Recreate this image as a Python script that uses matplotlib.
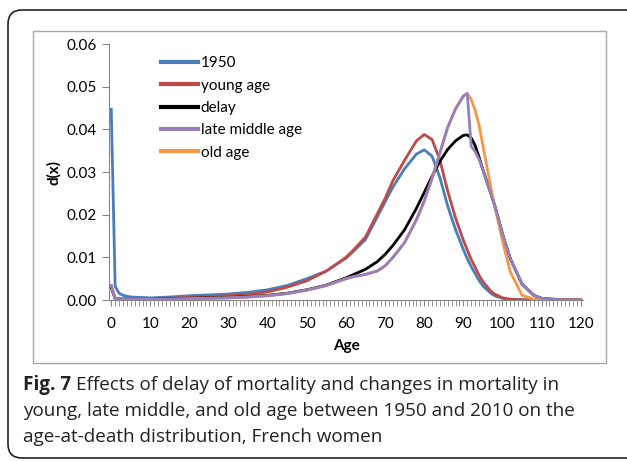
import numpy as np
import matplotlib
matplotlib.use("Agg")
import matplotlib.pyplot as plt
from matplotlib.patches import FancyBboxPatch, Rectangle

ages = [0, 1, 2, 3, 5, 10, 15, 20, 25, 30, 35, 40, 45, 50, 55, 60, 62, 65, 68, 70,
        72, 75, 78, 80, 82, 84, 86, 88, 90, 91, 92, 93, 94, 95, 97, 98, 100, 102, 105,
        108, 110, 115, 120]

d_1950 = [0.0447, 0.0032, 0.0016, 0.0011, 0.0007, 0.0005, 0.0007, 0.0010, 0.0012, 0.0014,
          0.0018, 0.0024, 0.0034, 0.0050, 0.0068, 0.0098, 0.0115, 0.0142, 0.0195, 0.0230,
          0.0265, 0.0308, 0.0342, 0.0352, 0.0337, 0.0287, 0.0220, 0.0165, 0.0118, 0.0097,
          0.0078, 0.0062, 0.0046, 0.0033, 0.0016, 0.0010, 0.0004, 0.0001, 0.00003,
          0.0, 0.0, 0.0, 0.0]

d_young = [0.0030, 0.0004, 0.0003, 0.0003, 0.0003, 0.0003, 0.0004, 0.0006, 0.0008, 0.0010,
           0.0013, 0.0019, 0.0030, 0.0045, 0.0068, 0.0100, 0.0118, 0.0148, 0.0202, 0.0238,
           0.0280, 0.0328, 0.0373, 0.0388, 0.0376, 0.0328, 0.0255, 0.0192, 0.0140, 0.0117,
           0.0095, 0.0077, 0.0058, 0.0043, 0.0021, 0.0014, 0.0005, 0.0002, 0.00005,
           0.0, 0.0, 0.0, 0.0]

d_delay = [0.0030, 0.0003, 0.0002, 0.0002, 0.0002, 0.0002, 0.0003, 0.0004, 0.0005, 0.0006,
           0.0008, 0.0011, 0.0016, 0.0024, 0.0035, 0.0052, 0.0060, 0.0072, 0.0090, 0.0107,
           0.0128, 0.0165, 0.0215, 0.0252, 0.0290, 0.0325, 0.0353, 0.0373, 0.0386, 0.0387,
           0.0380, 0.0362, 0.0335, 0.0305, 0.0250, 0.0222, 0.0155, 0.0097, 0.0037,
           0.0011, 0.0004, 0.00003, 0.0]

d_late_middle = [0.0034, 0.0003, 0.0002, 0.0002, 0.0002, 0.0002, 0.0002, 0.0003, 0.0004, 0.0005,
                 0.0007, 0.0010, 0.0015, 0.0023, 0.0034, 0.0050, 0.0055, 0.0060, 0.0068, 0.0080,
                 0.0100, 0.0135, 0.0188, 0.0232, 0.0285, 0.0345, 0.0405, 0.0448, 0.0478, 0.0484,
                 0.0360, 0.0348, 0.0330, 0.0305, 0.0250, 0.0222, 0.0155, 0.0097, 0.0037,
                 0.0011, 0.0004, 0.00003, 0.0]

d_old = [0.0034, 0.0003, 0.0002, 0.0002, 0.0002, 0.0002, 0.0002, 0.0003, 0.0004, 0.0005,
         0.0007, 0.0010, 0.0015, 0.0023, 0.0034, 0.0050, 0.0055, 0.0060, 0.0068, 0.0080,
         0.0100, 0.0135, 0.0188, 0.0232, 0.0285, 0.0345, 0.0405, 0.0448, 0.0478, 0.0484,
         0.0470, 0.0445, 0.0410, 0.0362, 0.0265, 0.0220, 0.0138, 0.0066, 0.0011,
         0.0002, 0.00005, 0.0, 0.0]

font = "Lato"
W, H = 627, 461
fig = plt.figure(figsize=(W / 100, H / 100), dpi=100)

# outer rounded frame and inner chart box (pixel coords)
fig.patches.append(FancyBboxPatch((8, 3), 640, 448, boxstyle="round,pad=0,rounding_size=14",
                                  transform=None, fill=False, ec="#222222", lw=1.2))
fig.patches.append(Rectangle((33, H - 363), 573, 332, transform=None, fill=False,
                             ec="#a6a6a6", lw=1.0))

ax = fig.add_axes([109.3 / W, 1 - 300 / H, 473.4 / W, 256 / H])
ax.plot(ages, d_1950, color="#4a7ebb", lw=2.0, label="1950", zorder=2)
ax.plot(ages, d_young, color="#be4b48", lw=2.0, label="young age", zorder=3)
ax.plot(ages, d_delay, color="#000000", lw=2.0, label="delay", zorder=4)
ax.plot(ages, d_late_middle, color="#9580bb", lw=2.0, label="late middle age", zorder=6)
ax.plot(ages, d_old, color="#f79646", lw=2.0, label="old age", zorder=5)

ax.set_xlim(-0.5, 120.5)
ax.set_ylim(0, 0.06)
ax.set_xticks(range(0, 121, 10))
ax.set_xticks(range(0, 121), minor=True)
ax.set_yticks([0, 0.01, 0.02, 0.03, 0.04, 0.05, 0.06])
ax.set_yticklabels(["%.2f" % v for v in ax.get_yticks()])
for s in ["top", "right"]:
    ax.spines[s].set_visible(False)
for s in ["left", "bottom"]:
    ax.spines[s].set_color("#868686")
ax.tick_params(axis="both", which="both", color="#868686", direction="out")
ax.tick_params(axis="x", which="both", length=4, pad=8)
ax.tick_params(axis="y", length=5, pad=4)
for lab in ax.get_xticklabels() + ax.get_yticklabels():
    lab.set_fontfamily(font)
    lab.set_fontsize(11)
ax.set_xlabel("Age", fontfamily=font, fontsize=11, fontweight="bold", labelpad=6)
ax.set_ylabel("d(x)", fontfamily=font, fontsize=11, fontweight="bold", labelpad=4)

leg = ax.legend(loc="upper left", bbox_to_anchor=(155 / W, 1 - 50 / H),
                bbox_transform=fig.transFigure, frameon=False,
                prop={"family": font, "size": 11}, handlelength=2.4,
                handletextpad=0.2, labelspacing=0.55, borderaxespad=0)
for t in leg.get_lines():
    t.set_linewidth(3)

# caption
cap_size = 13.6
fig.canvas.draw()
r = fig.canvas.get_renderer()
y0 = 1 - 385 / H
t1 = fig.text(23 / W, y0, "Fig. 7", fontfamily="Open Sans", fontsize=cap_size,
              fontweight="bold", va="center", color="#222222")
bb = t1.get_window_extent(renderer=r)
fig.text((bb.x1 + 5) / W, y0, "Effects of delay of mortality and changes in mortality in",
         fontfamily="Open Sans", fontsize=cap_size, va="center", color="#222222")
fig.text(23 / W, 1 - 411 / H, "young, late middle, and old age between 1950 and 2010 on the",
         fontfamily="Open Sans", fontsize=cap_size, va="center", color="#222222")
fig.text(23 / W, 1 - 437 / H, "age-at-death distribution, French women",
         fontfamily="Open Sans", fontsize=cap_size, va="center", color="#222222")

fig.savefig("out.png", dpi=100)
